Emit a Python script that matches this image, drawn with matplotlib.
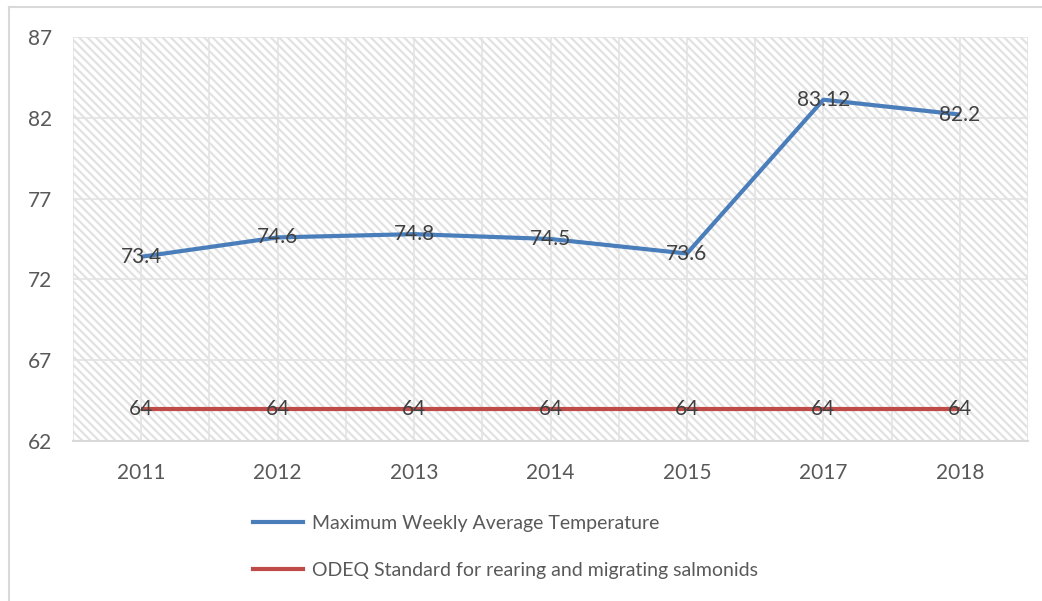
import numpy as np
import matplotlib
matplotlib.use('Agg')
import matplotlib.pyplot as plt
from matplotlib.lines import Line2D
from matplotlib.patches import Rectangle

years = ['2011', '2012', '2013', '2014', '2015', '2017', '2018']
mwat = [73.4, 74.6, 74.8, 74.5, 73.6, 83.12, 82.2]
odeq = [64, 64, 64, 64, 64, 64, 64]
series_names = ['Maximum Weekly Average Temperature',
                'ODEQ Standard for rearing and migrating salmonids']
yticks = [62, 67, 72, 77, 82, 87]

plt.rcParams['font.family'] = ['Lato', 'DejaVu Sans']
plt.rcParams['hatch.linewidth'] = 1.6
plt.rcParams['hatch.color'] = '#e2e2e2'

W, H = 1042, 601
fig = plt.figure(figsize=(W / 100, H / 100), dpi=100)
ax = fig.add_axes([73 / W, 1 - 441 / H, (1028 - 73) / W, (441 - 37) / H])

# outer chart border (left and top visible)
fig.add_artist(Line2D([9 / W, 9 / W], [0, 1 - 7 / H], transform=fig.transFigure, color='#d9d9d9', lw=1.5))
fig.add_artist(Line2D([9 / W, 1], [1 - 7 / H, 1 - 7 / H], transform=fig.transFigure, color='#d9d9d9', lw=1.5))

# hatched plot area
ax.patch.set_alpha(0)
bg = Rectangle((0, 0), 1, 1, transform=ax.transAxes, facecolor='white',
               edgecolor='#e2e2e2', hatch='\\\\\\\\', linewidth=0, zorder=0)
ax.add_patch(bg)

x = np.arange(len(years))
ax.plot(x, mwat, color='#4a7ebb', lw=3, solid_capstyle='butt', zorder=3)
ax.plot(x, odeq, color='#be4b48', lw=3, solid_capstyle='butt', zorder=3)

for xi, v in zip(x, mwat):
    ax.text(xi, v, f'{v:g}', ha='center', va='center', fontsize=15, color='#404040', zorder=4)
for xi, v in zip(x, odeq):
    ax.text(xi, v, f'{v:g}', ha='center', va='center', fontsize=15, color='#404040', zorder=4)

ax.set_xlim(-0.5, len(years) - 0.5)
ax.set_ylim(62, 87)
ax.set_yticks(yticks)
ax.set_xticks(x)
ax.set_xticklabels(years)
ax.set_xticks(np.arange(-0.5, len(years), 1.0), minor=True)
ax.grid(True, which='both', color='#e3e3e3', lw=1.2, zorder=1)
ax.set_axisbelow(True)
ax.tick_params(axis='both', which='both', length=0, labelsize=15, labelcolor='#595959')
ax.tick_params(axis='y', pad=15)
ax.tick_params(axis='x', pad=16)
for side in ['left', 'top', 'right']:
    ax.spines[side].set_visible(False)
ax.spines['bottom'].set_color('#d9d9d9')
ax.spines['bottom'].set_linewidth(1.5)

handles = [Line2D([], [], color='#4a7ebb', lw=3), Line2D([], [], color='#be4b48', lw=3)]
fig.legend(handles, series_names, loc='upper left', bbox_to_anchor=(253 / W, 1 - 515 / H),
           frameon=False, fontsize=14, labelcolor='#595959', handlelength=2.55,
           handletextpad=0.5, labelspacing=1.55, borderaxespad=0, borderpad=0)

fig.savefig('out.png', dpi=100)
